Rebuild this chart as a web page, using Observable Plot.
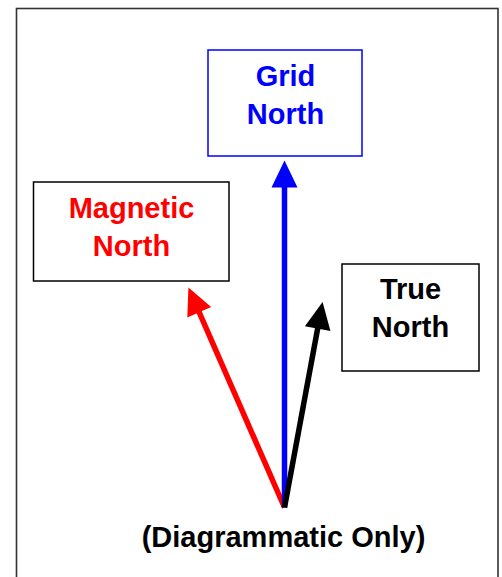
<!DOCTYPE html>
<html><head><meta charset="utf-8">
<script src="https://cdn.jsdelivr.net/npm/d3@7"></script>
<script src="https://cdn.jsdelivr.net/npm/@observablehq/plot@0.6"></script>
<style>body{margin:0;background:#fff} #chart svg{display:block}</style>
</head><body><div id="chart"></div>
<script>
// Diagram units: origin at the common tail of the arrows, y pointing up
const names = ["Magnetic North", "Grid North", "True North"];
const labels = ["Magnetic\nNorth", "Grid\nNorth", "True\nNorth"];
const bearings = [-23.6, 0, 10.5];      // degrees from grid north
const lengths = [240, 347, 209];        // arrow lengths
const colors = ["#ff0000", "#0000ff", "#000000"];
const boxStrokes = ["#000000", "#0000ff", "#000000"];
const boxX1 = [-250.5, -76, 58];
const boxX2 = [-55, 78, 195];
const boxY1 = [226, 351, 136];
const boxY2 = [325, 457, 243];
const labelX = [-153, 1, 126];
const labelY = [283, 415, 201.5];
const captionText = ["(Diagrammatic Only)"];
const captionX = [-1];
const captionY = [-30.7];

const headLen = 27, headHalf = 13;
const arrows = names.map((name, i) => {
  const a = bearings[i] * Math.PI / 180;
  const ux = Math.sin(a), uy = Math.cos(a);
  const L = lengths[i];
  return {name, color: colors[i], angle: bearings[i],
    x1: 0, y1: 0, x2: ux * L, y2: uy * L,
    bx: ux * (L - headLen + 3), by: uy * (L - headLen + 3)};
});
const boxes = names.map((name, i) => ({name, x1: boxX1[i], x2: boxX2[i], y1: boxY1[i], y2: boxY2[i], stroke: boxStrokes[i]}));
const labelData = names.map((name, i) => ({name, text: labels[i], x: labelX[i], y: labelY[i], color: colors[i]}));
const captionData = captionText.map((t, i) => ({text: t, x: captionX[i], y: captionY[i]}));

function headSymbol(deg) {
  const t = deg * Math.PI / 180, c = Math.cos(t), s = Math.sin(t);
  const rot = (x, y) => [x * c - y * s, x * s + y * c];
  return {
    draw(ctx) {
      const p0 = rot(0, 0), p1 = rot(-headHalf, headLen), p2 = rot(headHalf, headLen);
      ctx.moveTo(p0[0], p0[1]);
      ctx.lineTo(p1[0], p1[1]);
      ctx.lineTo(p2[0], p2[1]);
      ctx.closePath();
    }
  };
}

const font = "'Liberation Sans', Arial, Helvetica, sans-serif";
const plot = Plot.plot({
  width: 502,
  height: 577,
  margin: 0,
  x: {domain: [-284, 218], axis: null},
  y: {domain: [-70, 507], axis: null},
  style: {fontFamily: font, background: "#fff"},
  marks: [
    Plot.frame({insetLeft: 16, insetTop: 8, insetRight: 4.5, insetBottom: -6, stroke: "#333", strokeWidth: 1.6}),
    Plot.rect(boxes, {x1: "x1", x2: "x2", y1: "y1", y2: "y2", fill: "white", stroke: "stroke", strokeWidth: 1.5}),
    Plot.text(labelData, {x: "x", y: "y", text: "text", fill: "color", fontSize: 29, fontWeight: "bold", lineHeight: 1.31, lineAnchor: "middle", fontFamily: font}),
    Plot.link(arrows, {x1: "x1", y1: "y1", x2: "bx", y2: "by", stroke: "color", strokeWidth: 5.5, strokeLinecap: "butt"}),
    ...arrows.map(d => Plot.dot([d], {x: "x2", y: "y2", symbol: headSymbol(d.angle), fill: "color", stroke: "none", r: 10})),
    Plot.text(captionData, {x: "x", y: "y", text: "text", fill: "#000", fontSize: 29, fontWeight: "bold", lineAnchor: "middle", fontFamily: font})
  ]
});
document.getElementById("chart").appendChild(plot);
</script>
</body></html>
